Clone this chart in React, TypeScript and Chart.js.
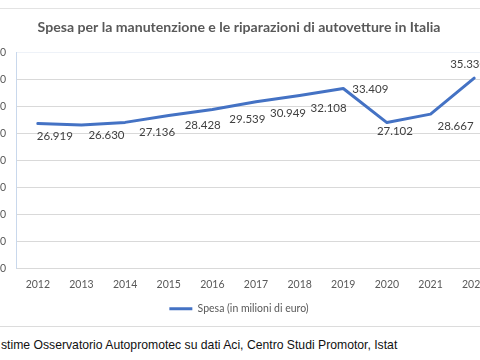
import React, { useEffect, useRef } from "react";
import { Chart, registerables } from "chart.js";

Chart.register(...registerables);

const years = ["2012", "2013", "2014", "2015", "2016", "2017", "2018", "2019", "2020", "2021", "2022"];
const spesa = [26919, 26630, 27136, 28428, 29539, 30949, 32108, 33409, 27102, 28667, 35330];
const seriesLabel = "Spesa (in milioni di euro)";
const titleText = "Spesa per la manutenzione e le riparazioni di autovetture in Italia";
const sourceText = "stime Osservatorio Autopromotec su dati Aci, Centro Studi Promotor, Istat";
const yMin = 0;
const yMax = 40000;
const yStep = 5000;
// data-label placement (offset from each point, in px)
const labelDx = [17, 25, 32, 34, 35, 32, 29, 27, 8, 25, -6];
const labelDy = [13, 10, 10, 10, 10, 12, 13, 1, 9, 12, -14];

const fmt = (v: number) => v.toLocaleString("it-IT");
const FONT = "Lato, 'Open Sans', sans-serif";
const BLUE = "#4472C4";

const dataLabels = {
  id: "dataLabels",
  afterDatasetsDraw(chart: any) {
    const ctx = chart.ctx;
    const meta = chart.getDatasetMeta(0);
    ctx.save();
    ctx.font = `11.5px ${FONT}`;
    ctx.fillStyle = "#404040";
    ctx.textAlign = "center";
    ctx.textBaseline = "middle";
    meta.data.forEach((pt: any, i: number) => {
      ctx.fillText(fmt(spesa[i]), pt.x + labelDx[i], pt.y + labelDy[i]);
    });
    ctx.restore();
  },
};

export default function App() {
  const ref = useRef<HTMLCanvasElement>(null);
  useEffect(() => {
    if (!ref.current) return;
    const chart = new Chart(ref.current, {
      type: "line",
      data: {
        labels: years,
        datasets: [
          {
            label: seriesLabel,
            data: spesa,
            borderColor: BLUE,
            backgroundColor: BLUE,
            borderWidth: 3,
            pointRadius: 0,
            tension: 0,
            borderJoinStyle: "round",
            borderCapStyle: "round",
          },
        ],
      },
      options: {
        animation: false,
        responsive: false,
        devicePixelRatio: 1,
        layout: { padding: { left: 0, right: 0, top: 0, bottom: 2 } },
        plugins: {
          title: {
            display: true,
            text: titleText,
            color: "#595959",
            font: { family: FONT, size: 14.1, weight: "bold" },
            padding: { top: 19, bottom: 17 },
          },
          legend: {
            position: "bottom",
            labels: {
              color: "#595959",
              font: { family: FONT, size: 10.5 },
              boxWidth: 23,
              boxHeight: 3,
              padding: 4,
              generateLabels: (c: any) => {
                const items = Chart.defaults.plugins.legend.labels.generateLabels(c);
                items.forEach((it: any) => {
                  it.lineWidth = 0;
                  it.fillStyle = BLUE;
                });
                return items;
              },
            },
          },
          tooltip: { enabled: false },
        },
        scales: {
          x: {
            offset: true,
            grid: { display: false, drawTicks: false },
            border: { display: false },
            ticks: {
              color: "#595959",
              font: { family: FONT, size: 10.5 },
              padding: 9,
              maxRotation: 0,
              autoSkip: false,
            },
          },
          y: {
            min: yMin,
            max: yMax,
            afterFit: (s: any) => {
              s.width = 34;
            },
            ticks: {
              stepSize: yStep,
              color: "#595959",
              font: { family: FONT, size: 10.5 },
              padding: 10,
              callback: (v: any) => fmt(Number(v)),
            },
            grid: {
              drawTicks: false,
              color: (c: any) => (c.tick && c.tick.value === yMax ? "#eef2f8" : "#d9d9d9"),
              lineWidth: 1,
            },
            border: { display: true, color: "#c9d8ec", width: 1 },
          },
        },
      },
      plugins: [dataLabels],
    });
    return () => chart.destroy();
  }, []);

  return (
    <div
      style={{
        position: "fixed",
        left: 0,
        top: 0,
        width: 480,
        height: 360,
        overflow: "hidden",
        background: "#fff",
      }}
    >
      <div style={{ position: "absolute", left: 0, top: 8, width: 480, height: 1, background: "#e3e3e3" }} />
      <div style={{ position: "absolute", left: -18, top: 0, width: 514, height: 326 }}>
        <canvas ref={ref} width={514} height={326} style={{ display: "block" }} />
      </div>
      <div style={{ position: "absolute", left: 0, top: 326, width: 480, height: 1, background: "#dcdcdc" }} />
      <div
        style={{
          position: "absolute",
          left: 1,
          top: 337,
          fontFamily: "'Liberation Sans', Arial, sans-serif",
          fontSize: 12.2,
          lineHeight: "16px",
          color: "#111",
          whiteSpace: "nowrap",
        }}
      >
        {sourceText}
      </div>
    </div>
  );
}
